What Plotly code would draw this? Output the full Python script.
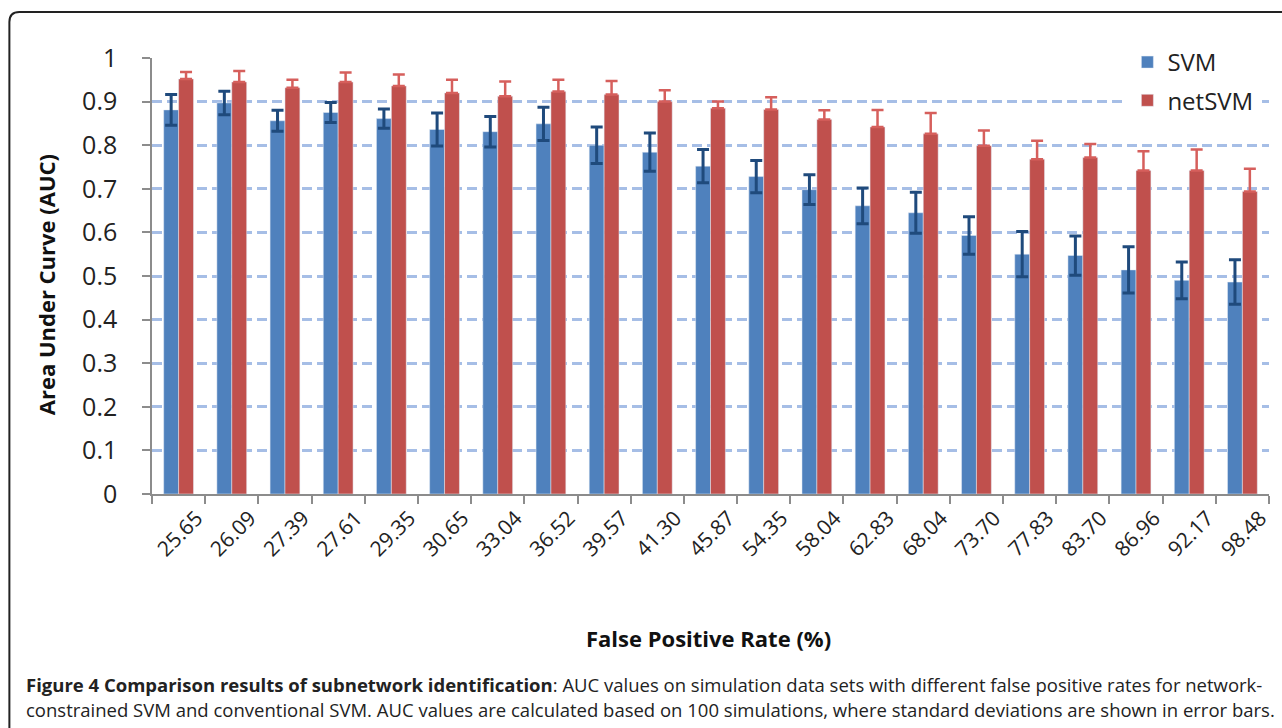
import plotly.graph_objects as go

fpr_labels = ["25.65", "26.09", "27.39", "27.61", "29.35", "30.65", "33.04", "36.52", "39.57", "41.30",
              "45.87", "54.35", "58.04", "62.83", "68.04", "73.70", "77.83", "83.70", "86.96", "92.17", "98.48"]
svm_auc = [0.881, 0.897, 0.856, 0.875, 0.861, 0.836, 0.831, 0.849, 0.800, 0.784,
           0.752, 0.728, 0.698, 0.661, 0.645, 0.593, 0.550, 0.547, 0.514, 0.490, 0.486]
svm_sd = [0.035, 0.027, 0.024, 0.023, 0.022, 0.038, 0.035, 0.038, 0.042, 0.044,
          0.038, 0.037, 0.034, 0.041, 0.047, 0.043, 0.052, 0.045, 0.053, 0.042, 0.051]
netsvm_auc = [0.952, 0.945, 0.932, 0.945, 0.936, 0.920, 0.912, 0.923, 0.916, 0.900,
              0.885, 0.882, 0.859, 0.842, 0.826, 0.799, 0.768, 0.772, 0.742, 0.742, 0.694]
netsvm_sd = [0.016, 0.025, 0.018, 0.022, 0.026, 0.030, 0.034, 0.027, 0.031, 0.026,
             0.015, 0.028, 0.021, 0.039, 0.048, 0.035, 0.042, 0.031, 0.044, 0.048, 0.052]
y_ticks = [0, 0.1, 0.2, 0.3, 0.4, 0.5, 0.6, 0.7, 0.8, 0.9, 1]
y_tick_text = ["0", "0.1", "0.2", "0.3", "0.4", "0.5", "0.6", "0.7", "0.8", "0.9", "1"]

W, H = 1282, 728
L, R, T, B = 152, 10, 58, 234
PW, PH = W - L - R, H - T - B
FONT = "Open Sans"

def px_x(x):
    return (x - L) / PW

def px_y(y):
    return (H - B - y) / PH

fig = go.Figure()
fig.add_trace(go.Bar(
    name="SVM", x=fpr_labels, y=svm_auc, marker_color="#4F81BD",
    error_y=dict(type="data", array=svm_sd, visible=True, color="#1F4A7C", thickness=3, width=6),
    legendgroup="a",
))
fig.add_trace(go.Bar(
    name="netSVM", x=fpr_labels, y=netsvm_auc, marker_color="#C0504D",
    error_y=dict(type="data", array=netsvm_sd, arrayminus=[0] * len(netsvm_sd), symmetric=False,
                 visible=True, color="#D65F5C", thickness=2.5, width=6),
    legendgroup="b",
))

# frame with rounded top-left corner
r = 10
x0, y0 = px_x(9), px_y(12)
x1, yb = px_x(1300), px_y(760)
rx, ry = r / PW, r / PH
fig.add_shape(type="path", xref="paper", yref="paper",
              path=f"M {x0},{yb} L {x0},{y0 - ry} Q {x0},{y0} {x0 + rx},{y0} L {x1},{y0}",
              line=dict(color="#222222", width=2))

annotations = [
    dict(text="<b>Area Under Curve (AUC)</b>", x=px_x(46), y=px_y(285), xref="paper", yref="paper",
         textangle=-90, showarrow=False, font=dict(family=FONT, size=22, color="#111111"),
         xanchor="center", yanchor="middle"),
    dict(text="<b>False Positive Rate (%)</b>", x=px_x(710), y=px_y(638), xref="paper", yref="paper",
         showarrow=False, font=dict(family=FONT, size=22, color="#111111"),
         xanchor="center", yanchor="middle"),
    dict(text="<b>Figure 4 Comparison results of subnetwork identification</b>: AUC values on simulation data sets with different false positive rates for network-",
         x=px_x(24), y=px_y(684), xref="paper", yref="paper", showarrow=False,
         font=dict(family=FONT, size=18.5, color="#222222"), xanchor="left", yanchor="middle"),
    dict(text="constrained SVM and conventional SVM. AUC values are calculated based on 100 simulations, where standard deviations are shown in error bars.",
         x=px_x(24), y=px_y(709), xref="paper", yref="paper", showarrow=False,
         font=dict(family=FONT, size=18.5, color="#222222"), xanchor="left", yanchor="middle"),
]

fig.update_layout(
    width=W, height=H,
    margin=dict(l=L, r=R, t=T, b=B, pad=0),
    paper_bgcolor="white", plot_bgcolor="white",
    barmode="group", bargap=0.44, bargroupgap=0,
    font=dict(family=FONT, color="#222222"),
    showlegend=True,
    legend=dict(x=px_x(1130), y=px_y(40), xanchor="left", yanchor="top",
                bgcolor="white", font=dict(family=FONT, size=24, color="#222222"),
                traceorder="grouped", tracegroupgap=4),
    annotations=annotations,
    xaxis=dict(
        type="category", tickangle=-45, tickfont=dict(family=FONT, size=21, color="#222222"),
        ticklabelshift=18, ticklabelstandoff=2,
        showline=True, linecolor="#8C8C8C", linewidth=1.5,
        ticks="outside", tickson="boundaries", ticklen=8, tickcolor="#8C8C8C", tickwidth=1.5,
        showgrid=False, range=[-0.5, len(fpr_labels) - 0.5],
    ),
    yaxis=dict(
        range=[0, 1], tickvals=y_ticks, ticktext=y_tick_text,
        tickfont=dict(family=FONT, size=25, color="#222222"),
        showline=True, linecolor="#8C8C8C", linewidth=1.5,
        ticks="outside", ticklen=8, tickcolor="#8C8C8C", tickwidth=1.5,
        ticklabelstandoff=20,
        showgrid=True, gridcolor="#A6BEE6", gridwidth=2.5, griddash="10px,5px",
        zeroline=False,
    ),
)

fig.write_html("out.html", post_script="document.body.style.margin='0px';",
               config={"displayModeBar": False})
